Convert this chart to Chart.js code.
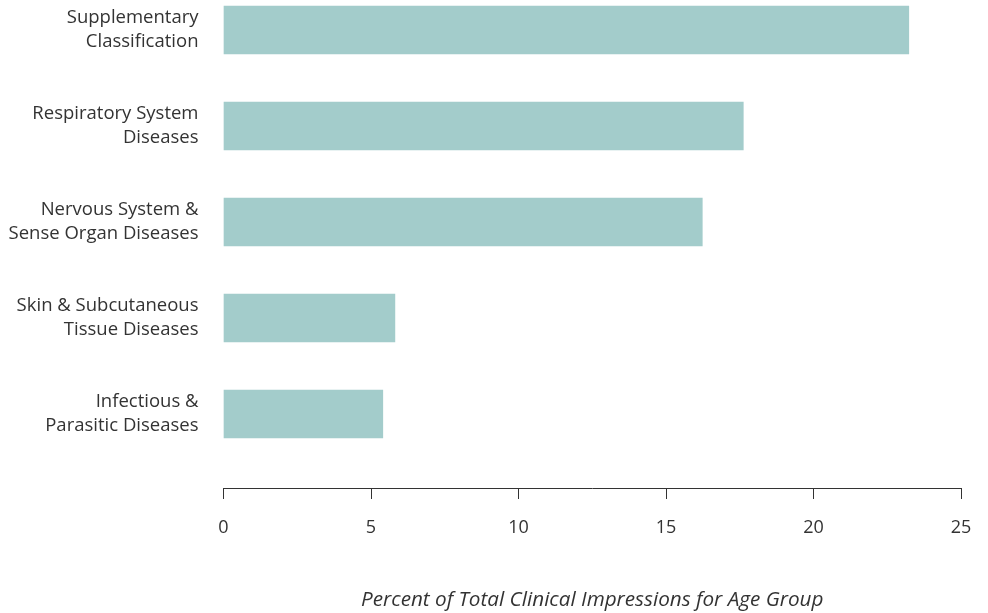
<!DOCTYPE html>
<html lang="en">
<head>
    <meta charset="UTF-8">
    <title>Clinical Impressions</title>
    <script src="https://cdn.jsdelivr.net/npm/chart.js"></script>
    <style>
        html, body { margin: 0; padding: 0; background: #fff; }
        .container { width: 988px; height: 613px; }
    </style>
</head>
<body>
    <div class="container">
        <canvas id="impressionsChart" width="988" height="613"></canvas>
    </div>
    <script>
        // chart data
        const categories = [
            ['Supplementary', 'Classification'],
            ['Respiratory System', 'Diseases'],
            ['Nervous System &', 'Sense Organ Diseases'],
            ['Skin & Subcutaneous', 'Tissue Diseases'],
            ['Infectious &', 'Parasitic Diseases']
        ];
        const percentValues = [23.23, 17.62, 16.23, 5.81, 5.40];
        const xTicks = [0, 5, 10, 15, 20, 25];
        const xTitle = 'Percent of Total Clinical Impressions for Age Group';

        const textColor = '#333333';
        const fontFamily = '"Open Sans", "Noto Sans", sans-serif';

        const points = percentValues.map((v, i) => ({ x: v, y: i }));

        const ctx = document.getElementById('impressionsChart').getContext('2d');
        new Chart(ctx, {
            type: 'bar',
            data: {
                datasets: [{
                    data: points,
                    backgroundColor: '#a3cccb',
                    borderWidth: 0,
                    barThickness: 48,
                    clip: false
                }]
            },
            options: {
                indexAxis: 'y',
                responsive: false,
                animation: false,
                layout: { padding: { top: 0, right: 27, bottom: 0, left: 0 } },
                plugins: {
                    legend: { display: false },
                    tooltip: { enabled: false }
                },
                scales: {
                    x: {
                        type: 'linear',
                        min: 0,
                        max: 25,
                        afterBuildTicks: (scale) => {
                            scale.ticks = xTicks.map(v => ({ value: v }));
                        },
                        afterFit: (scale) => {
                            scale.height = 125;
                            scale.paddingLeft = 0;
                            scale.paddingRight = 0;
                        },
                        grid: {
                            drawOnChartArea: false,
                            drawTicks: true,
                            tickLength: 11,
                            color: textColor,
                            lineWidth: 1
                        },
                        border: { display: true, color: textColor, width: 1 },
                        ticks: {
                            color: textColor,
                            padding: 18,
                            font: { family: fontFamily, size: 18 }
                        },
                        title: {
                            display: true,
                            text: xTitle,
                            color: textColor,
                            padding: { top: 35, bottom: 0 },
                            font: { family: fontFamily, size: 20.7, style: 'italic' }
                        }
                    },
                    y: {
                        type: 'linear',
                        offset: false,
                        reverse: true,
                        min: -0.3125,
                        max: 4.771,
                        afterBuildTicks: (scale) => {
                            scale.ticks = categories.map((c, i) => ({ value: i }));
                        },
                        afterFit: (scale) => {
                            scale.width = 223.5;
                            scale.paddingTop = 0;
                            scale.paddingBottom = 0;
                        },
                        grid: { display: false },
                        border: { display: false },
                        ticks: {
                            color: textColor,
                            padding: 17,
                            font: { family: fontFamily, size: 18.5, lineHeight: 1.3 },
                            callback: (value) => categories[value]
                        }
                    }
                }
            }
        });
    </script>
</body>
</html>
